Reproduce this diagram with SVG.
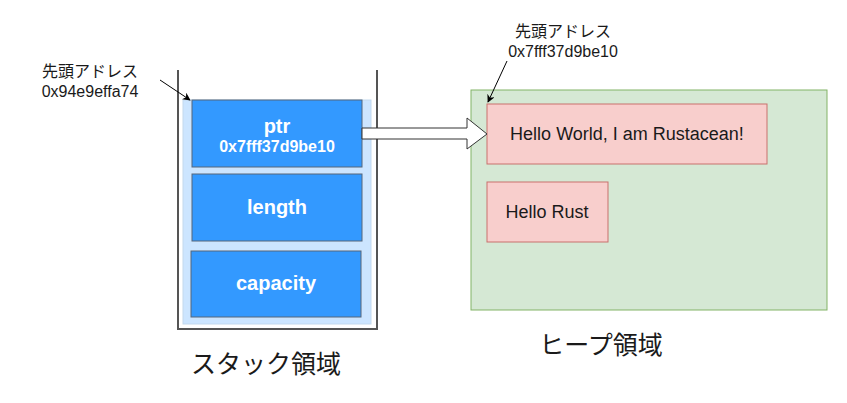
<svg xmlns="http://www.w3.org/2000/svg" width="847" height="403" viewBox="0 0 847 403">
<defs>
<style>
.lbl{font-family:"Liberation Sans","Noto Sans CJK JP",sans-serif;font-size:16px;fill:#1a1a1a;text-anchor:middle}
.cell{fill:#3399ff;stroke:#56677a;stroke-width:1}
.ct{font-family:"Liberation Sans",sans-serif;font-weight:bold;fill:#ffffff;text-anchor:middle}
.heapbox{fill:#f8cecc;stroke:#c9706c;stroke-width:1}
.ht{font-family:"Liberation Sans",sans-serif;font-size:18px;fill:#1a1a1a;text-anchor:middle}
.big{font-family:"Noto Sans CJK JP",sans-serif;font-size:25px;fill:#1a1a1a;text-anchor:middle}
</style>
<marker id="ah" viewBox="0 0 10 10" refX="9" refY="5" markerWidth="8" markerHeight="8" orient="auto-start-reverse" markerUnits="userSpaceOnUse">
<path d="M0,0 L10,5 L0,10 L3,5 Z" fill="#000"/>
</marker>
</defs>
<rect width="847" height="403" fill="#ffffff"/>
<g id="stack">
<path d="M178,70 V329 H377 V70" fill="none" stroke="#555" stroke-width="2"/>
<rect x="183" y="100" width="188" height="224" fill="#cce5ff" stroke="#c3d9ee" stroke-width="1"/>
</g>
<g id="ptr">
<rect class="cell" x="192" y="100" width="170" height="67"/>
<text class="ct" x="277" y="133" font-size="20">ptr</text>
<text class="ct" x="277" y="152" font-size="16">0x7fff37d9be10</text>
</g>
<g id="length">
<rect class="cell" x="192" y="174" width="170" height="67"/>
<text class="ct" x="277" y="214" font-size="20">length</text>
</g>
<g id="capacity">
<rect class="cell" x="191" y="251" width="170" height="66"/>
<text class="ct" x="276" y="290" font-size="20">capacity</text>
</g>
<g id="heap">
<rect x="471" y="90" width="356" height="220" fill="#d5e8d4" stroke="#82b366" stroke-width="1"/>
</g>
<g id="hello-world">
<rect class="heapbox" x="487" y="104" width="280" height="60"/>
<text class="ht" x="627" y="140">Hello World, I am Rustacean!</text>
</g>
<g id="hello-rust">
<rect class="heapbox" x="487" y="182" width="121" height="60"/>
<text class="ht" x="547" y="218">Hello Rust</text>
</g>
<g id="stack-addr">
<text class="lbl" x="90" y="77">先頭アドレス</text>
<text class="lbl" x="90" y="97">0x94e9effa74</text>
</g>
<g id="heap-addr">
<text class="lbl" x="563" y="37">先頭アドレス</text>
<text class="lbl" x="563" y="57">0x7fff37d9be10</text>
</g>
<g id="stack-title"><text class="big" x="266" y="373">スタック領域</text></g>
<g id="heap-title"><text class="big" x="601" y="354">ヒープ領域</text></g>
<g id="connectors">
<path d="M362,128 H467 V118 L487,134 L467,149 V139 H362 Z" fill="#ffffff" stroke="#333" stroke-width="1"/>
<line x1="160" y1="80" x2="190" y2="100" stroke="#000" stroke-width="1" marker-end="url(#ah)"/>
<line x1="507" y1="61" x2="488" y2="102" stroke="#000" stroke-width="1" marker-end="url(#ah)"/>
</g>
</svg>
